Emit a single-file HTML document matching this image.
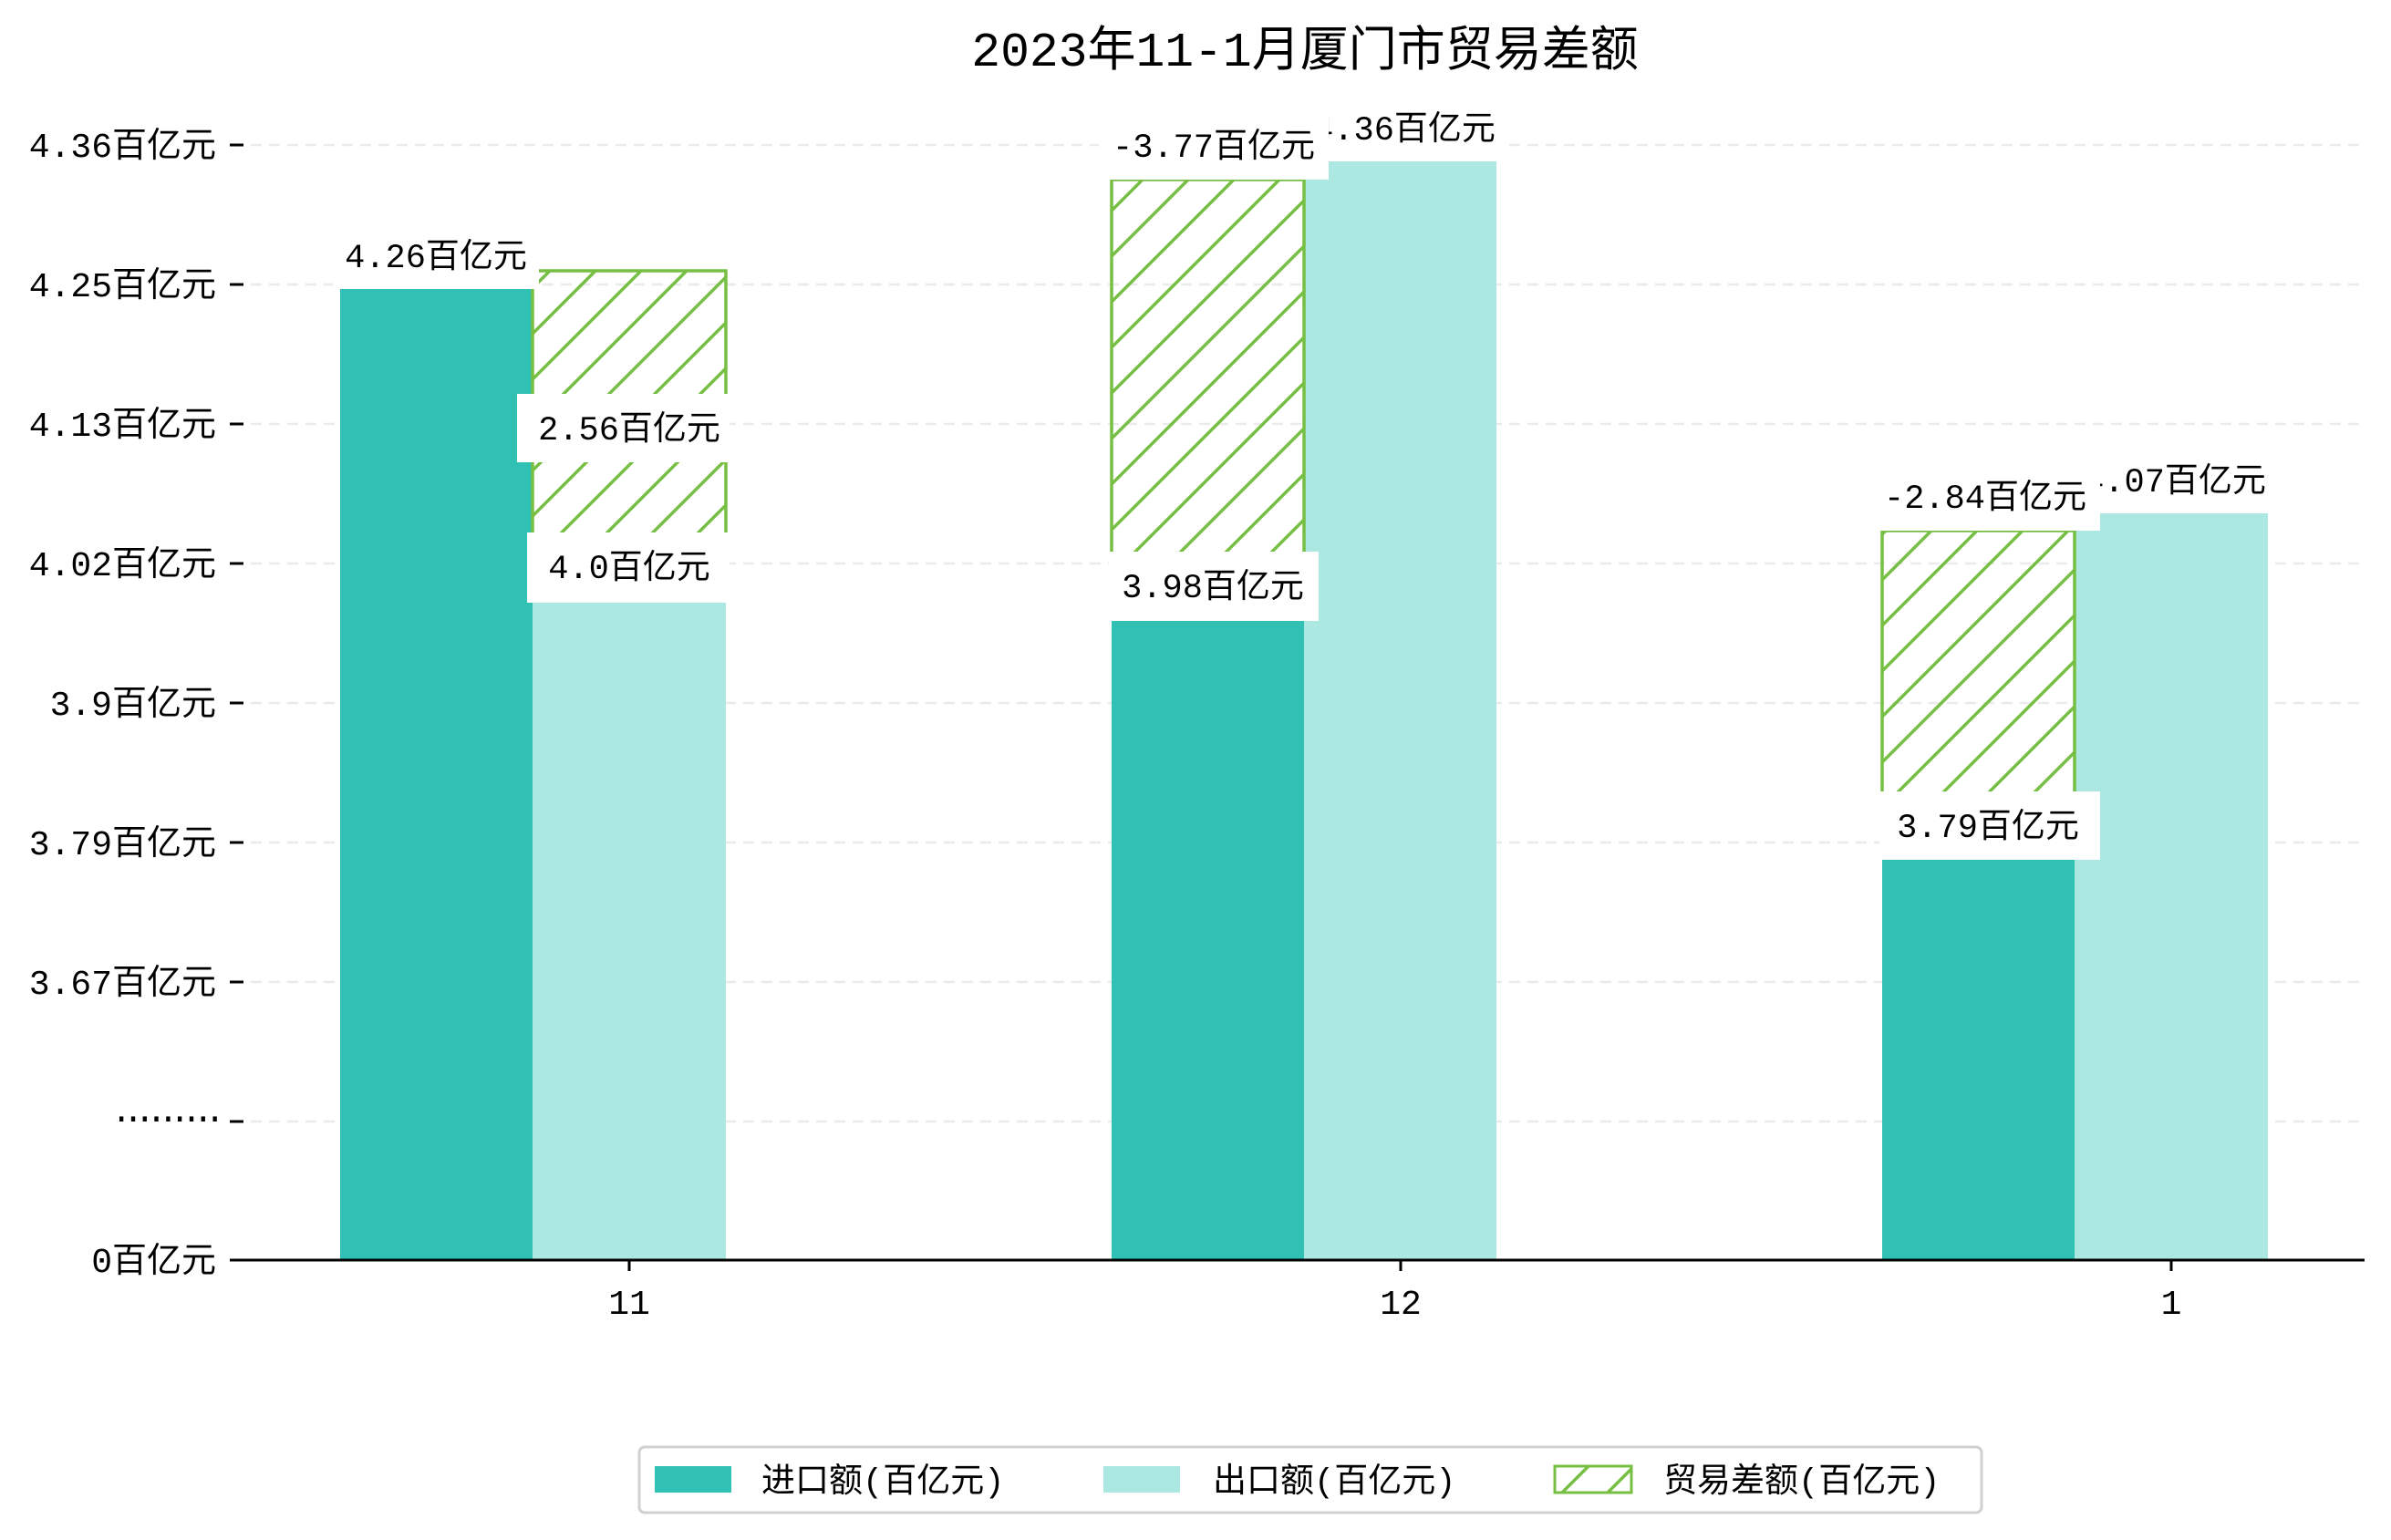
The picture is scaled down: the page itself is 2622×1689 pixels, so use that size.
<!DOCTYPE html>
<html><head><meta charset="utf-8"><style>
html,body{margin:0;padding:0;background:#fff}
svg{display:block}
text{font-family:"Liberation Mono","Noto Sans CJK SC",monospace;fill:#000}
</style></head><body>
<svg width="2622" height="1689" viewBox="0 0 2622 1689" xmlns="http://www.w3.org/2000/svg">
<defs>
<pattern id="h" patternUnits="userSpaceOnUse" width="50" height="50">
<path d="M-10,10 L10,-10 M0,50 L50,0 M40,60 L60,40" stroke="#77bf43" stroke-width="3.5"/>
</pattern>
</defs>
<text x="1431" y="72" font-size="53" text-anchor="middle">2023年11-1月厦门市贸易差额</text>
<g stroke="#ebebeb" stroke-width="2.5" stroke-dasharray="12,8">
<line x1="255" y1="159" x2="2593" y2="159"/>
<line x1="255" y1="312" x2="2593" y2="312"/>
<line x1="255" y1="465" x2="2593" y2="465"/>
<line x1="255" y1="618" x2="2593" y2="618"/>
<line x1="255" y1="771" x2="2593" y2="771"/>
<line x1="255" y1="924" x2="2593" y2="924"/>
<line x1="255" y1="1077" x2="2593" y2="1077"/>
<line x1="255" y1="1230" x2="2593" y2="1230"/>
</g>
<g stroke="#000" stroke-width="3">
<line x1="252" y1="159" x2="267" y2="159"/><line x1="252" y1="312" x2="267" y2="312"/>
<line x1="252" y1="465" x2="267" y2="465"/><line x1="252" y1="618" x2="267" y2="618"/>
<line x1="252" y1="771" x2="267" y2="771"/><line x1="252" y1="924" x2="267" y2="924"/>
<line x1="252" y1="1077" x2="267" y2="1077"/><line x1="252" y1="1230" x2="267" y2="1230"/>
<line x1="252" y1="1382" x2="267" y2="1382"/>
</g>
<g font-size="38" text-anchor="end">
<text x="237" y="172">4.36百亿元</text><text x="237" y="325">4.25百亿元</text>
<text x="237" y="478">4.13百亿元</text><text x="237" y="631">4.02百亿元</text>
<text x="237" y="784">3.9百亿元</text><text x="237" y="937">3.79百亿元</text>
<text x="237" y="1090">3.67百亿元</text>
<text x="1382" y="1230" font-size="1"> </text>
</g>
<text x="237" y="1238" font-size="38" text-anchor="end" letter-spacing="-10">·········</text>
<text x="237" y="1395" font-size="38" text-anchor="end">0百亿元</text>
<!-- bars -->
<g fill="#31c1b4">
<rect x="373" y="317" width="211" height="1065"/>
<rect x="1219" y="679" width="211" height="703"/>
<rect x="2064" y="941" width="211" height="441"/>
</g>
<g fill="#abe8e2">
<rect x="584" y="659" width="212" height="723"/>
<rect x="1430" y="177" width="211" height="1205"/>
<rect x="2275" y="563" width="212" height="819"/>
</g>
<g fill="url(#h)" stroke="#77bf43" stroke-width="3.5">
<rect x="584" y="297" width="212" height="362"/>
<rect x="1219" y="197" width="211" height="482"/>
<rect x="2064" y="582" width="211" height="359"/>
</g>
<line x1="253" y1="1382" x2="2593" y2="1382" stroke="#000" stroke-width="3"/>
<g stroke="#000" stroke-width="3">
<line x1="690" y1="1382" x2="690" y2="1394"/>
<line x1="1536" y1="1382" x2="1536" y2="1394"/>
<line x1="2381" y1="1382" x2="2381" y2="1394"/>
</g>
<g font-size="38" text-anchor="middle">
<text x="690" y="1441">11</text><text x="1536" y="1441">12</text><text x="2381" y="1441">1</text>
</g>
<!-- labels -->
<g fill="#fff">
<rect x="365" y="243" width="226" height="74"/>
<rect x="1216" y="605" width="230" height="76"/>
<rect x="2061" y="868" width="242" height="75"/>
<rect x="578" y="584" width="222" height="77"/>
<rect x="1430" y="103" width="220" height="74"/>
<rect x="2275" y="489" width="225" height="74"/>
</g>
<g font-size="37" text-anchor="middle">
<text x="478" y="293">4.26百亿元</text>
<text x="1330" y="655">3.98百亿元</text>
<text x="2180" y="918">3.79百亿元</text>
<text x="690" y="634">4.0百亿元</text>
<text x="1540" y="153">4.36百亿元</text>
<text x="2385" y="539">4.07百亿元</text>
</g>
<g fill="#fff">
<rect x="567" y="432" width="233" height="75"/>
<rect x="1205" y="122" width="252" height="75"/>
<rect x="2051" y="507" width="252" height="75"/>
</g>
<g font-size="37" text-anchor="middle">
<text x="690" y="482">2.56百亿元</text>
<text x="1331" y="172">-3.77百亿元</text>
<text x="2177" y="557">-2.84百亿元</text>
</g>
<!-- legend -->
<rect x="701" y="1587" width="1472" height="72" rx="6" fill="#fff" stroke="#d0d0d0" stroke-width="3"/>
<rect x="718" y="1608" width="84" height="29" fill="#31c1b4"/>
<rect x="1210" y="1608" width="84" height="29" fill="#abe8e2"/>
<rect x="1705" y="1608" width="84" height="29" fill="url(#h)" stroke="#77bf43" stroke-width="3"/>
<g font-size="37">
<text x="835" y="1636">进口额(百亿元)</text>
<text x="1330" y="1636">出口额(百亿元)</text>
<text x="1824" y="1636">贸易差额(百亿元)</text>
</g>
</svg>
</body></html>
